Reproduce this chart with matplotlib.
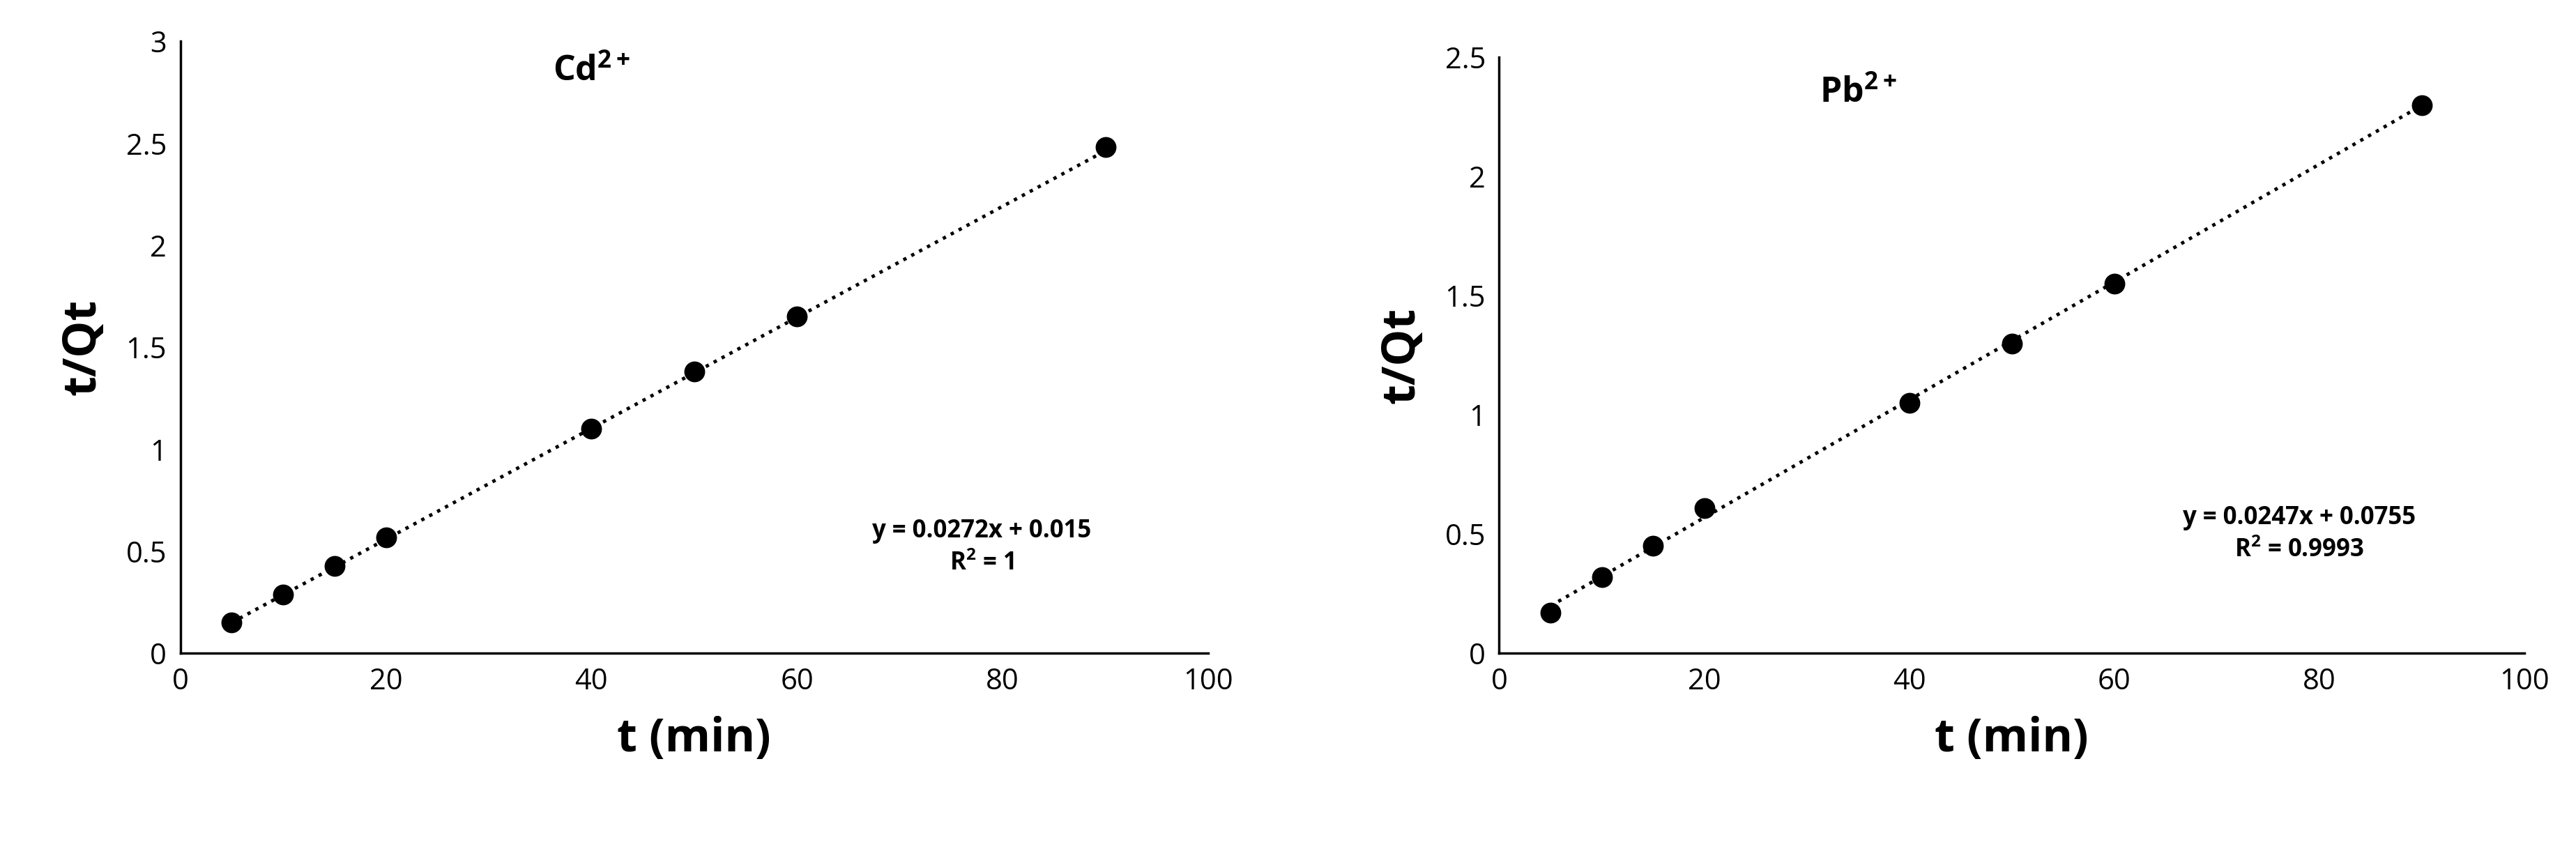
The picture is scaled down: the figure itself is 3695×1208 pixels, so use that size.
import matplotlib.pyplot as plt
import numpy as np

plt.rcParams['font.family'] = ['Open Sans', 'DejaVu Sans']
plt.rcParams['font.size'] = 28
plt.rcParams['mathtext.fontset'] = 'custom'
plt.rcParams['mathtext.rm'] = 'Open Sans'
plt.rcParams['mathtext.bf'] = 'Open Sans:bold'

t = [5, 10, 15, 20, 40, 50, 60, 90]
cd_tq = [0.15, 0.29, 0.43, 0.57, 1.10, 1.38, 1.65, 2.48]
pb_tq = [0.17, 0.32, 0.45, 0.61, 1.05, 1.30, 1.55, 2.30]
cd_fit = (0.0272, 0.015)
pb_fit = (0.0247, 0.0755)

fig = plt.figure(figsize=(36.95, 12.08), dpi=100)
ax1 = fig.add_axes([0.070, 0.224, 0.399, 0.727])
ax2 = fig.add_axes([0.582, 0.224, 0.398, 0.708])

panels = [
    (ax1, cd_tq, cd_fit, r'Cd$^{\mathbf{2+}}$', 3, 0.5, (40, 2.85), (78, 0.52), 'y = 0.0272x + 0.015\nR$^{\\mathbf{2}}$ = 1'),
    (ax2, pb_tq, pb_fit, r'Pb$^{\mathbf{2+}}$', 2.5, 0.5, (35, 2.35), (78, 0.50), 'y = 0.0247x + 0.0755\nR$^{\\mathbf{2}}$ = 0.9993'),
]
for ax, y, fit, title, ymax, ystep, tpos, epos, eq in panels:
    xf = np.array([t[0], t[-1]])
    ax.plot(xf, fit[0] * xf + fit[1], color='black', linestyle=':', linewidth=3.5)
    ax.scatter(t, y, s=420, color='black', zorder=3)
    ax.set_xlim(0, 100)
    ax.set_ylim(0, ymax)
    ax.set_xticks(range(0, 101, 20))
    ax.set_yticks(np.arange(0, ymax + 0.01, ystep))
    ax.set_yticklabels([f'{v:g}' for v in np.arange(0, ymax + 0.01, ystep)])
    for s in ['top', 'right']:
        ax.spines[s].set_visible(False)
    for s in ['left', 'bottom']:
        ax.spines[s].set_linewidth(2.5)
    ax.tick_params(length=0, pad=14, labelsize=30)
    ax.set_xlabel('t (min)', fontsize=48, fontweight='bold', labelpad=20)
    ax.set_ylabel('t/Qt', fontsize=48, fontweight='bold', labelpad=20)
    ax.text(tpos[0], tpos[1], title, fontsize=36, fontweight='bold', ha='center', va='center')
    ax.text(epos[0], epos[1], eq, fontsize=25, fontweight='bold', ha='center', va='center', linespacing=1.4)

fig.savefig('out.png', dpi=100)
